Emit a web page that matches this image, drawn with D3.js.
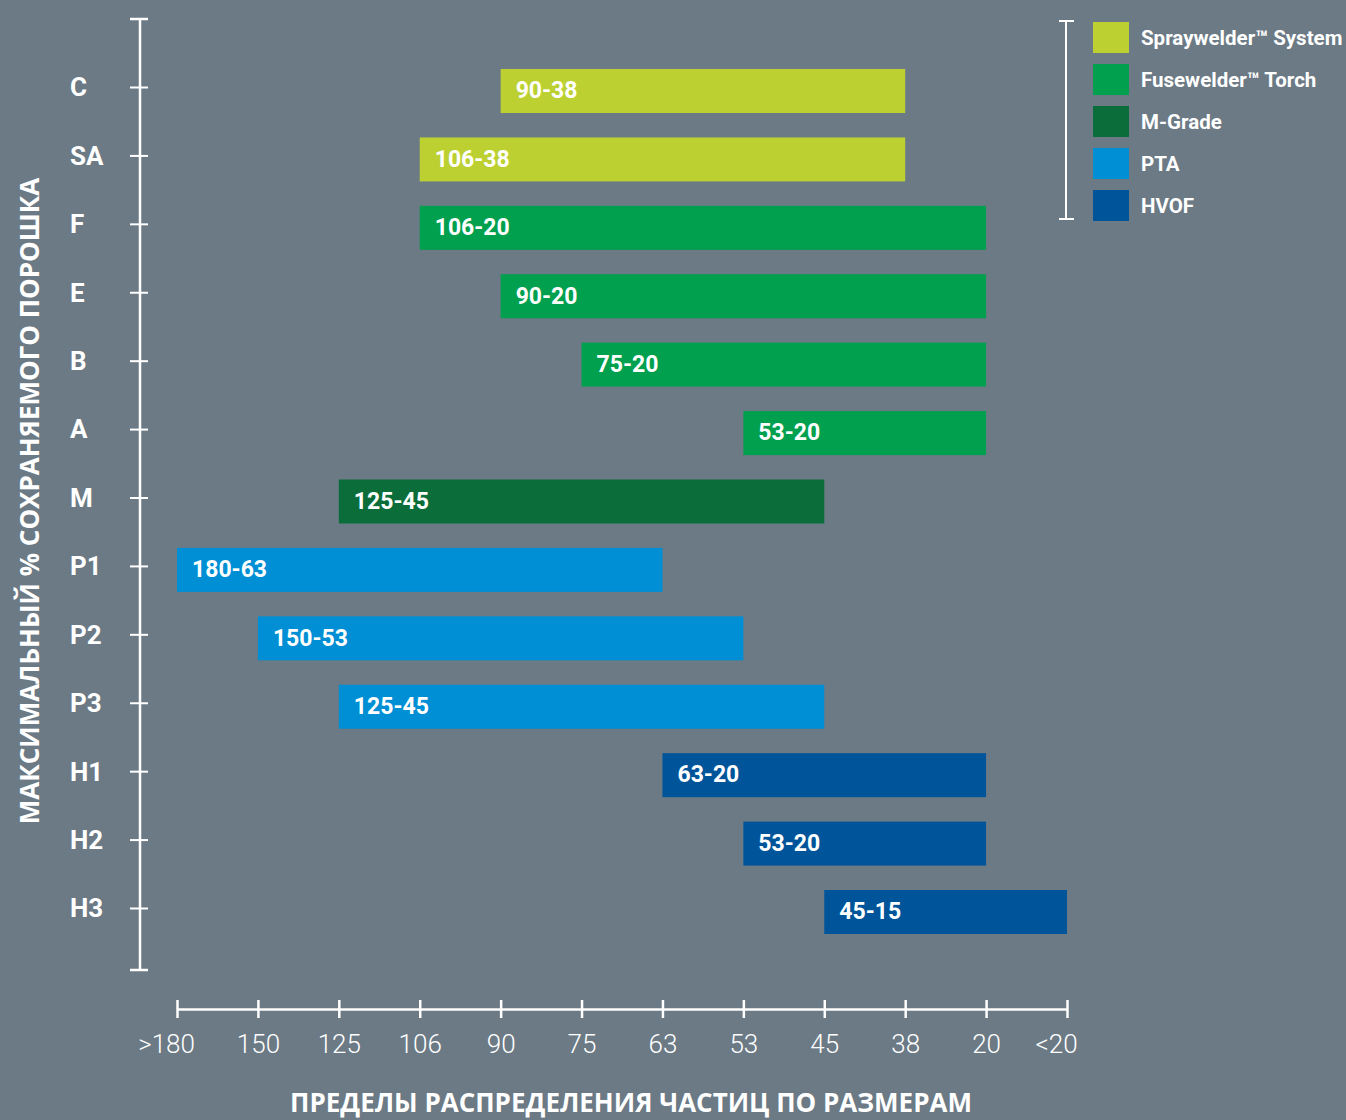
<!DOCTYPE html>
<html>
<head>
<meta charset="utf-8">
<script src="https://d3js.org/d3.v7.min.js"></script>
<style>
  html, body { margin: 0; padding: 0; background: #6b7a85; }
  svg { display: block; }
  text { fill: #fff; }
</style>
</head>
<body>
<svg id="chart" width="1346" height="1120"></svg>
<script>
// size ranges, coarse to fine
const sizeTicks = [">180", "150", "125", "106", "90", "75", "63", "53", "45", "38", "20", "<20"];

// powder grades (top to bottom)
const grades = ["C", "SA", "F", "E", "B", "A", "M", "P1", "P2", "P3", "H1", "H2", "H3"];
const labels = ["90-38", "106-38", "106-20", "90-20", "75-20", "53-20", "125-45", "180-63", "150-53", "125-45", "63-20", "53-20", "45-15"];
// start and end of each bar, as tick labels
const barFrom = ["90", "106", "106", "90", "75", "53", "125", ">180", "150", "125", "63", "53", "45"];
const barTo = ["38", "38", "20", "20", "20", "20", "45", "63", "53", "45", "20", "20", "<20"];
const groups = ["Spraywelder", "Spraywelder", "Fusewelder", "Fusewelder", "Fusewelder", "Fusewelder", "MGrade", "PTA", "PTA", "PTA", "HVOF", "HVOF", "HVOF"];

const legendKeys = ["Spraywelder", "Fusewelder", "MGrade", "PTA", "HVOF"];
const legendNames = ["Spraywelder™ System", "Fusewelder™ Torch", "M-Grade", "PTA", "HVOF"];
const legendColors = ["#bcd131", "#00a04f", "#0b6e3a", "#008fd5", "#00559a"];

const svg = d3.select("#chart");
const font = "Roboto, 'DejaVu Sans', sans-serif";

const x = d3.scalePoint().domain(sizeTicks).range([177, 1067]);
const y = d3.scalePoint().domain(grades).range([87, 908]);
const color = d3.scaleOrdinal().domain(legendKeys).range(legendColors);

const rows = grades.map((g, i) => ({
  grade: g, label: labels[i], from: barFrom[i], to: barTo[i], group: groups[i]
}));

// bars
svg.selectAll("rect.bar")
  .data(rows)
  .enter()
  .append("rect")
  .attr("class", "bar")
  .attr("x", d => x(d.from))
  .attr("width", d => x(d.to) - x(d.from))
  .attr("y", d => y(d.grade) - 18)
  .attr("height", 44)
  .attr("fill", d => color(d.group));

svg.selectAll("text.barlabel")
  .data(rows)
  .enter()
  .append("text")
  .attr("class", "barlabel")
  .attr("x", d => x(d.from) + 15)
  .attr("y", d => y(d.grade) + 3)
  .attr("dy", "0.36em")
  .style("font-family", font)
  .style("font-weight", "700")
  .style("font-size", "23px")
  .text(d => d.label);

// y axis
const yAxis = svg.append("g").attr("transform", "translate(130,0)")
  .call(d3.axisRight(y).tickSize(18).tickFormat(""));
yAxis.select(".domain").remove();
yAxis.selectAll("line").attr("stroke", "#fff").attr("stroke-width", 2);

svg.append("line")
  .attr("x1", 140).attr("x2", 140).attr("y1", 19).attr("y2", 970)
  .attr("stroke", "#fff").attr("stroke-width", 2.5);
[19, 970].forEach(v => {
  svg.append("line").attr("x1", 130).attr("x2", 148).attr("y1", v).attr("y2", v)
    .attr("stroke", "#fff").attr("stroke-width", 2.5);
});

svg.selectAll("text.grade")
  .data(grades)
  .enter()
  .append("text")
  .attr("class", "grade")
  .attr("x", 70)
  .attr("y", d => y(d))
  .attr("dy", "0.36em")
  .style("font-family", font)
  .style("font-weight", "700")
  .style("font-size", "26px")
  .text(d => d);

// x axis
const xAxis = svg.append("g").attr("transform", "translate(0,1009)")
  .call(d3.axisBottom(x).tickSize(0).tickPadding(0));
xAxis.select(".domain").attr("stroke", "#fff").attr("stroke-width", 2.5);
xAxis.selectAll(".tick line").attr("y1", -9).attr("y2", 9)
  .attr("stroke", "#fff").attr("stroke-width", 2.5);
xAxis.selectAll(".tick text")
  .attr("y", 44).attr("dy", 0)
  .attr("dx", d => d.startsWith(">") || d.startsWith("<") ? "-0.42em" : 0)
  .style("fill", "#fff")
  .style("font-family", font)
  .style("font-weight", "300")
  .style("font-size", "26px");

// axis titles
svg.append("text")
  .attr("transform", "translate(39,501) rotate(-90)")
  .attr("text-anchor", "middle")
  .style("font-family", "'Open Sans', sans-serif")
  .style("font-weight", "700")
  .style("font-size", "26px")
  .text("МАКСИМАЛЬНЫЙ % СОХРАНЯЕМОГО ПОРОШКА");

svg.append("text")
  .attr("x", 631).attr("y", 1112)
  .attr("text-anchor", "middle")
  .style("font-family", "'Open Sans', sans-serif")
  .style("font-weight", "700")
  .style("font-size", "26px")
  .text("ПРЕДЕЛЫ РАСПРЕДЕЛЕНИЯ ЧАСТИЦ ПО РАЗМЕРАМ");

// legend
const ly = d3.scalePoint().domain(legendKeys).range([37, 205]);
svg.append("line").attr("x1", 1066).attr("x2", 1066).attr("y1", 21).attr("y2", 219)
  .attr("stroke", "#fff").attr("stroke-width", 2);
[21, 219].forEach(v => {
  svg.append("line").attr("x1", 1059).attr("x2", 1074).attr("y1", v).attr("y2", v)
    .attr("stroke", "#fff").attr("stroke-width", 2);
});
const leg = svg.selectAll("g.leg")
  .data(legendKeys)
  .enter()
  .append("g")
  .attr("class", "leg")
  .attr("transform", d => `translate(1093,${ly(d)})`);
leg.append("rect")
  .attr("x", 0).attr("y", -15).attr("width", 36).attr("height", 31)
  .attr("fill", d => color(d));
leg.append("text")
  .attr("x", 48).attr("y", 1).attr("dy", "0.36em")
  .style("font-family", font)
  .style("font-weight", "700")
  .style("font-size", "20.5px")
  .text((d, i) => legendNames[i]);
</script>
</body>
</html>
